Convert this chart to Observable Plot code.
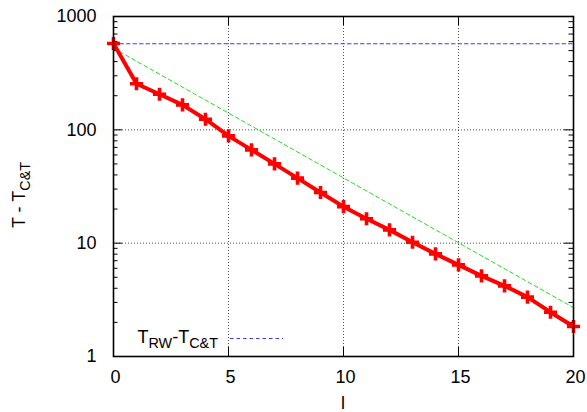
<!DOCTYPE html>
<html>
<head>
<meta charset="utf-8">
<script src="https://cdn.jsdelivr.net/npm/d3@7"></script>
<script src="https://cdn.jsdelivr.net/npm/@observablehq/plot@0.6"></script>
<style>
  html, body { margin: 0; padding: 0; background: #fff; }
  svg { display: block; }
</style>
</head>
<body>
<div id="chart"></div>
<script>
// Layer index l and the gap T - T_C&T at each layer
const layers = [0, 1, 2, 3, 4, 5, 6, 7, 8, 9, 10, 11, 12, 13, 14, 15, 16, 17, 18, 19, 20];
const gaps = [578, 255, 206, 166, 124, 88.5, 66.6, 50.1, 37.5, 28.0, 21.0, 16.4, 13.1, 10.2, 8.05, 6.43, 5.15, 4.2, 3.34, 2.46, 1.84];

// Exponential fit (straight on the log axis), given by its end points
const fitLayers = [0, 20];
const fitGaps = [525, 2.7];

// Constant reference level T_RW - T_C&T
const rwLayers = [0, 20];
const rwGap = 575;

// Axis ticks
const xTicks = [0, 5, 10, 15, 20];
const yTicks = [1, 10, 100, 1000];
const xGrid = [5, 10, 15];
const yGrid = [10, 100];

const W = 587, H = 412;
const mL = 113, mR = 14, mT = 16, mB = 56;
const iw = W - mL - mR, ih = H - mT - mB;
const FONT = "'Liberation Sans', Arial, Helvetica, sans-serif";
const FS = 18;
const BLUE = "#3a3aff";

const series = layers.map((l, i) => ({l, gap: gaps[i]}));
const fit = fitLayers.map((l, i) => ({l, gap: fitGaps[i]}));
const rw = rwLayers.map(l => ({l, gap: rwGap}));
const yMinor = yTicks.slice(0, -1).flatMap(d => d3.range(2, 10).map(k => d * k));

const svg = Plot.plot({
  width: W,
  height: H,
  marginLeft: mL,
  marginRight: mR,
  marginTop: mT,
  marginBottom: mB,
  style: {fontFamily: FONT, fontSize: FS + "px", color: "#000", background: "#fff"},
  x: {domain: [0, 20]},
  y: {type: "log", domain: [1, 1000]},
  marks: [
    // dotted grid
    Plot.ruleX(xGrid, {stroke: "#222", strokeDasharray: "1,2", strokeOpacity: 0.8}),
    Plot.ruleY(yGrid, {stroke: "#222", strokeDasharray: "1,2", strokeOpacity: 0.8}),
    // inward tick marks on all four sides
    Plot.tickY(yTicks, {y: d => d, insetRight: iw - 9, stroke: "#000"}),
    Plot.tickY(yTicks, {y: d => d, insetLeft: iw - 9, stroke: "#000"}),
    Plot.tickY(yMinor, {y: d => d, insetRight: iw - 4.5, stroke: "#000"}),
    Plot.tickY(yMinor, {y: d => d, insetLeft: iw - 4.5, stroke: "#000"}),
    Plot.tickX(xTicks, {x: d => d, insetTop: ih - 9, stroke: "#000"}),
    Plot.tickX(xTicks, {x: d => d, insetBottom: ih - 9, stroke: "#000"}),
    // reference level and fit
    Plot.line(rw, {x: "l", y: "gap", stroke: BLUE, strokeWidth: 1.1, strokeDasharray: "3.5,3"}),
    Plot.line(fit, {x: "l", y: "gap", stroke: "#22dd22", strokeWidth: 1, strokeDasharray: "4,3"}),
    // measured gap
    Plot.line(series, {x: "l", y: "gap", stroke: "#ff0000", strokeWidth: 4, strokeLinejoin: "round"}),
    Plot.dot(series, {x: "l", y: "gap", symbol: "plus", r: 4.3, stroke: "#ff0000", strokeWidth: 3.6}),
    Plot.frame({stroke: "#000", strokeWidth: 1.6}),
    // tick labels
    Plot.axisX(xTicks, {tickSize: 0, tickPadding: 14, dx: 2, label: null, fontSize: FS}),
    Plot.axisY(yTicks, {tickSize: 0, tickPadding: 17, label: null, fontSize: FS, tickFormat: d => String(d)})
  ]
});

const g = d3.select(svg).append("g")
  .attr("font-family", FONT)
  .attr("font-size", FS)
  .attr("fill", "#000");

const SUB = FS * 0.8, SHIFT = 5;

// y-axis title: T - T_C&T
const yt = g.append("text")
  .attr("transform", "translate(25,195) rotate(-90)")
  .attr("text-anchor", "middle");
yt.append("tspan").text("T - T");
yt.append("tspan").attr("font-size", SUB).attr("dy", SHIFT).text("C&T");

// x-axis title
g.append("text")
  .attr("x", mL + iw / 2)
  .attr("y", 409)
  .attr("text-anchor", "middle")
  .text("l");

// key: T_RW-T_C&T with its dotted sample
const key = g.append("text")
  .attr("x", 218)
  .attr("y", 343)
  .attr("text-anchor", "end");
key.append("tspan").text("T");
key.append("tspan").attr("font-size", SUB).attr("dy", SHIFT).text("RW");
key.append("tspan").attr("dy", -SHIFT).text("-T");
key.append("tspan").attr("font-size", SUB).attr("dy", SHIFT).text("C&T");

d3.select(svg).append("line")
  .attr("x1", 230).attr("x2", 283)
  .attr("y1", 338.5).attr("y2", 338.5)
  .attr("stroke", BLUE)
  .attr("stroke-width", 1.1)
  .attr("stroke-dasharray", "3.5,3");

document.getElementById("chart").appendChild(svg);
</script>
</body>
</html>
